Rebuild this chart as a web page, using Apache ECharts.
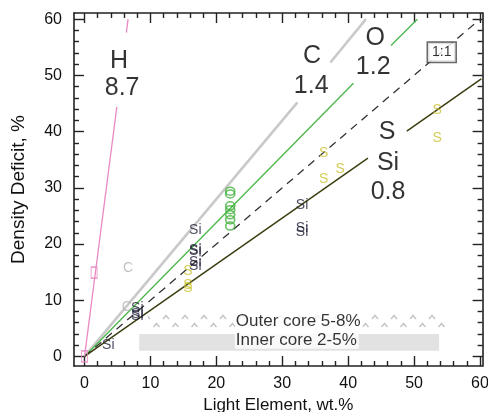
<!DOCTYPE html>
<html>
<head>
<meta charset="utf-8">
<script src="https://cdn.jsdelivr.net/npm/echarts@6/dist/echarts.min.js"></script>
<style>
html,body{margin:0;padding:0;background:#fff;}
#chart{width:488px;height:412px;}
</style>
</head>
<body>
<div id="chart"></div>
<script>
// ---------- data ----------
const xRange = [-1.6, 60.4];
const yRange = [-1.7, 61.1];
const xMajor = [0, 10, 20, 30, 40, 50, 60];
const xMinor = [2, 4, 6, 8, 12, 14, 16, 18, 22, 24, 26, 28, 32, 34, 36, 38, 42, 44, 46, 48, 52, 54, 56, 58];
const yMajor = [0, 10, 20, 30, 40, 50, 60];
const yMinor = [2, 4, 6, 8, 12, 14, 16, 18, 22, 24, 26, 28, 32, 34, 36, 38, 42, 44, 46, 48, 52, 54, 56, 58];

// trend lines (segments, gaps where labels sit)
const lineH = [[[0, 0], [4.9, 44.4]], [[6.35, 57.6], [6.6, 60]]];
const lineC = [[[0, 0], [32.3, 45.2]], [[37.3, 52.3], [42.7, 60]]];
const lineO = [[[0, 0], [40.8, 48.6]], [[46.5, 55.3], [50.5, 60]]];
const line11 = [[[0, 0], [60, 60]]];
const lineSSi = [[[0, 0], [43.0, 35.3]], [[48.9, 40.1], [60.2, 49.4]]];

// experimental points
const siPts = [[16.8, 22.5], [16.8, 19.0], [16.8, 18.8], [16.8, 16.8], [16.8, 16.1], [8.0, 8.6], [8.0, 7.5], [8.0, 7.2], [3.6, 2.0], [33.0, 27.0], [33.0, 22.9], [33.0, 22.2]];
const sPts = [[15.7, 15.2], [15.7, 12.7], [15.7, 12.2], [36.3, 36.2], [36.3, 31.6], [38.8, 33.4], [53.5, 43.9], [53.5, 38.9]];
const cPts = [[6.6, 15.7], [6.4, 8.8]];
const oPts = [[22.1, 29.4], [22.1, 28.9], [22.1, 26.8], [22.1, 26.1], [22.1, 25.2], [22.1, 24.3], [22.1, 23.2]];
const hPts = [[1.45, 14.9], [0, 0]];

// core ranges
const outerCore = [[9.6, 4.8], [54.7, 7.8]];
const innerCore = [[8.3, 1.0], [53.8, 4.0]];

// annotations
const bigLabels = [
  ['H', 5.25, 52.6], ['8.7', 5.7, 47.8],
  ['C', 34.5, 53.5], ['1.4', 34.4, 48.1],
  ['O', 44.1, 56.7], ['1.2', 43.8, 51.5],
  ['S', 45.9, 39.9], ['Si', 46.05, 34.4], ['0.8', 46.05, 29.3]
];
const ratioLabel = ['1:1', 54.2, 54.1];
const coreLabels = [['Outer core 5-8%', 22.8, 6.2], ['Inner core 2-5%', 22.8, 2.9]];

// ---------- chart ----------
const FONT = '"Liberation Sans", Arial, Helvetica, sans-serif';
const AX = '#222';

const pc = document.createElement('canvas');
pc.width = 19; pc.height = 16;
const g = pc.getContext('2d');
g.strokeStyle = '#c6c6c6'; g.lineWidth = 1.5;
g.beginPath(); g.moveTo(1.5, 7); g.lineTo(4.5, 3.5); g.lineTo(7.5, 7); g.stroke();
g.beginPath(); g.moveTo(11, 15); g.lineTo(14, 11.5); g.lineTo(17, 15); g.stroke();

function xAx(pos, vals, len, major) {
  return {
    type: 'value', min: xRange[0], max: xRange[1], position: pos,
    axisLine: { show: major, onZero: false, lineStyle: { color: AX, width: 1.6 } },
    axisTick: { show: true, inside: true, length: len, customValues: vals, lineStyle: { color: AX, width: 1.4 } },
    axisLabel: { show: major && pos === 'bottom', customValues: vals, fontSize: 16, color: '#111', margin: 10, fontFamily: FONT },
    splitLine: { show: false }
  };
}
function yAx(pos, vals, len, major) {
  return {
    type: 'value', min: yRange[0], max: yRange[1], position: pos,
    axisLine: { show: major, onZero: false, lineStyle: { color: AX, width: 1.6 } },
    axisTick: { show: true, inside: true, length: len, customValues: vals, lineStyle: { color: AX, width: 1.4 } },
    axisLabel: { show: major && pos === 'left', customValues: vals, fontSize: 16, color: '#111', margin: 12, fontFamily: FONT },
    splitLine: { show: false }
  };
}

const xAxes = [xAx('bottom', xMajor, 10, true), xAx('bottom', xMinor, 5, false), xAx('top', xMajor, 10, true), xAx('top', xMinor, 5, false)];
xAxes[0].name = 'Light Element, wt.%';
xAxes[0].nameLocation = 'middle';
xAxes[0].nameGap = 26;
xAxes[0].nameTextStyle = { fontSize: 17, color: '#111', fontFamily: FONT };
const yAxes = [yAx('left', yMajor, 10, true), yAx('left', yMinor, 5, false), yAx('right', yMajor, 10, true), yAx('right', yMinor, 5, false)];
yAxes[0].name = 'Density Deficit, %';
yAxes[0].nameLocation = 'middle';
yAxes[0].nameGap = 46;
yAxes[0].nameTextStyle = { fontSize: 19, color: '#111', fontFamily: FONT };

function segSeries(segs, style, z) {
  return segs.map(s => ({
    type: 'line', data: s, symbol: 'none', showSymbol: false, silent: true, z: z,
    lineStyle: style, xAxisIndex: 0, yAxisIndex: 0
  }));
}
function textSeries(pts, txt, color, size, z) {
  return {
    type: 'scatter', data: pts, symbolSize: 1, itemStyle: { color: 'rgba(0,0,0,0)' }, silent: true, z: z,
    label: { show: true, position: 'inside', formatter: txt, color: color, fontSize: size, fontFamily: FONT }
  };
}

const series = [];
// core areas
series.push({
  type: 'line', data: [], silent: true, z: 1,
  markArea: {
    silent: true,
    data: [
      [{ coord: outerCore[0], itemStyle: { color: { image: pc, repeat: 'repeat' } } }, { coord: outerCore[1] }],
      [{ coord: innerCore[0], itemStyle: { color: '#e2e2e2' } }, { coord: innerCore[1] }]
    ]
  }
});
series.push(...segSeries(lineC, { color: '#c9c9c9', width: 2.6 }, 2));
series.push(...segSeries(lineO, { color: '#4fb84d', width: 1.4 }, 3));
series.push(...segSeries(line11, { color: '#333', width: 1.3, type: [8, 6] }, 3));
series.push(...segSeries(lineSSi, { color: '#3d3d12', width: 1.5 }, 3));
series.push(...segSeries(lineH, { color: '#ea8ac4', width: 1.3 }, 3));

series.push({
  type: 'scatter', data: oPts, symbol: 'circle', symbolSize: [9, 8], silent: true, z: 5,
  itemStyle: { color: 'rgba(255,255,255,0)', borderColor: '#45b23f', borderWidth: 1.6 }
});
series.push({
  type: 'scatter', data: hPts, symbol: 'rect', symbolSize: [6, 11], silent: true, z: 5,
  itemStyle: { color: 'rgba(255,255,255,0)', borderColor: '#e88ac0', borderWidth: 1.3 }
});
series.push(textSeries(cPts, 'C', '#b4b4b4', 14, 5));
series.push(textSeries(sPts, 'S', '#c9c22e', 14, 6));
series.push(textSeries(siPts, 'Si', '#1a1a33', 14, 7));

// annotations
series.push({
  type: 'scatter', symbolSize: 1, itemStyle: { color: 'rgba(0,0,0,0)' }, silent: true, z: 8,
  data: bigLabels.map(d => ({ name: d[0], value: [d[1], d[2]] })),
  label: { show: true, position: 'inside', formatter: p => p.name, color: '#000', fontSize: 25, fontFamily: FONT }
});
series.push({
  type: 'scatter', symbolSize: 1, itemStyle: { color: 'rgba(0,0,0,0)' }, silent: true, z: 8,
  data: [{ name: ratioLabel[0], value: [ratioLabel[1], ratioLabel[2]] }],
  label: {
    show: true, position: 'inside', formatter: p => p.name, color: '#000', fontSize: 14, fontFamily: FONT,
    backgroundColor: '#fff', borderColor: '#444', borderWidth: 1.5, padding: [3, 4, 2, 4]
  }
});
series.push({
  type: 'scatter', symbolSize: 1, itemStyle: { color: 'rgba(0,0,0,0)' }, silent: true, z: 8,
  data: coreLabels.map(d => ({ name: d[0], value: [d[1], d[2]] })),
  label: {
    show: true, position: 'inside', align: 'left', formatter: p => p.name, color: '#000', fontSize: 17, fontFamily: FONT,
    backgroundColor: '#fff', padding: [0, 2, 0, 1]
  }
});

const chart = echarts.init(document.getElementById('chart'), null, { renderer: 'canvas' });
chart.setOption({
  animation: false,
  backgroundColor: '#fff',
  grid: { left: 74, right: 5.4, top: 13, bottom: 46, containLabel: false, outerBoundsMode: 'none' },
  xAxis: xAxes,
  yAxis: yAxes,
  series: series
});
</script>
</body>
</html>
